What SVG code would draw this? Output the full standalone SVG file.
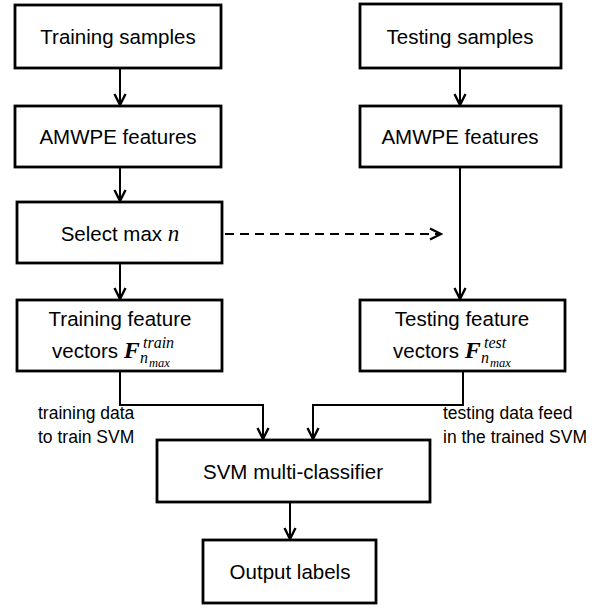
<svg xmlns="http://www.w3.org/2000/svg" width="605" height="608" viewBox="0 0 605 608">
<style>
.box{fill:#fff;stroke:#000;stroke-width:2.8}
.t{font-family:"Liberation Sans",Arial,sans-serif;font-size:20.5px;fill:#000;text-anchor:middle}
.lbl{font-family:"Liberation Sans",Arial,sans-serif;font-size:17.5px;fill:#000}
.m{font-family:"Liberation Serif","DejaVu Serif",serif;font-style:italic}
.c{fill:none;stroke:#000;stroke-width:2}
</style>
<defs>
<marker id="ah" viewBox="0 0 14 14" refX="12.5" refY="7" markerWidth="14" markerHeight="14" markerUnits="userSpaceOnUse" orient="auto">
<path d="M1.5,1.5 L12.5,7 L1.5,12.5" fill="none" stroke="#000" stroke-width="2.4" stroke-linejoin="miter"/>
</marker>
</defs>
<rect width="605" height="608" fill="#fff"/>
<g id="connectors">
<line class="c" x1="120" y1="68" x2="120" y2="105" marker-end="url(#ah)"/>
<line class="c" x1="460" y1="68" x2="460" y2="105" marker-end="url(#ah)"/>
<line class="c" x1="120" y1="167" x2="120" y2="201" marker-end="url(#ah)"/>
<line class="c" x1="120" y1="263" x2="120" y2="299" marker-end="url(#ah)"/>
<line class="c" x1="460" y1="167" x2="460" y2="299" marker-end="url(#ah)"/>
<line class="c" x1="225" y1="234" x2="441" y2="234" stroke-dasharray="9,6" marker-end="url(#ah)"/>
<polyline class="c" points="120,371 120,405 263,405 263,439" marker-end="url(#ah)"/>
<polyline class="c" points="463,371 463,405 313,405 313,439" marker-end="url(#ah)"/>
<line class="c" x1="290" y1="502" x2="290" y2="539" marker-end="url(#ah)"/>
</g>
<g id="training-samples"><rect class="box" x="15" y="5" width="206" height="63"/><text class="t" x="118" y="44">Training samples</text></g>
<g id="testing-samples"><rect class="box" x="360" y="4" width="201" height="64"/><text class="t" x="460" y="44">Testing samples</text></g>
<g id="amwpe-train"><rect class="box" x="15" y="106" width="206" height="61"/><text class="t" x="118" y="144">AMWPE features</text></g>
<g id="amwpe-test"><rect class="box" x="360" y="106" width="201" height="61"/><text class="t" x="460" y="144">AMWPE features</text></g>
<g id="select-max"><rect class="box" x="17" y="202" width="205" height="61"/><text class="t" x="120" y="241">Select max <tspan class="m" font-size="23">n</tspan></text></g>
<g id="train-vectors"><rect class="box" x="17" y="300" width="205" height="71"/>
<text class="t" x="120" y="326">Training feature</text>
<text class="t" x="52" y="358" style="text-anchor:start">vectors <tspan class="m" font-weight="bold" font-size="24">F</tspan></text>
<text class="m" x="143" y="348" font-size="16">train</text>
<text class="m" x="140" y="363" font-size="16">n</text><text class="m" x="149" y="367" font-size="12.5">max</text>
</g>
<g id="test-vectors"><rect class="box" x="360" y="300" width="205" height="71"/>
<text class="t" x="462" y="326">Testing feature</text>
<text class="t" x="393" y="358" style="text-anchor:start">vectors <tspan class="m" font-weight="bold" font-size="24">F</tspan></text>
<text class="m" x="484" y="348" font-size="16">test</text>
<text class="m" x="481" y="363" font-size="16">n</text><text class="m" x="490" y="367" font-size="12.5">max</text>
</g>
<g id="svm"><rect class="box" x="157" y="440" width="273" height="62"/><text class="t" x="293" y="479">SVM multi-classifier</text></g>
<g id="output"><rect class="box" x="203" y="540" width="173" height="63"/><text class="t" x="290" y="579">Output labels</text></g>
<g id="labels">
<text class="lbl" x="38" y="419">training data</text>
<text class="lbl" x="38" y="443">to train SVM</text>
<text class="lbl" x="443" y="419">testing data feed</text>
<text class="lbl" x="443" y="443">in the trained SVM</text>
</g>
</svg>
